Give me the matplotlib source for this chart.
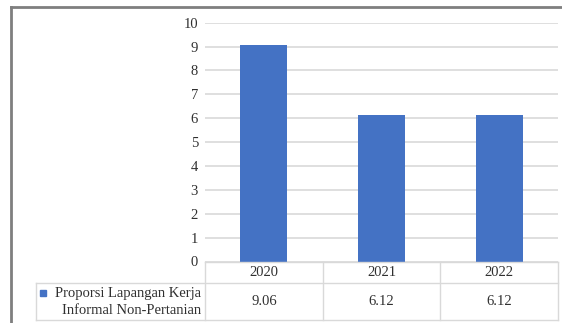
import matplotlib.pyplot as plt
from matplotlib.lines import Line2D
from matplotlib.patches import Rectangle

years = ["2020", "2021", "2022"]
proporsi = [9.06, 6.12, 6.12]
series_name = "Proporsi Lapangan Kerja\nInformal Non-Pertanian"
yticks = list(range(0, 11))

W, H = 562, 323
plt.rcParams['font.family'] = ['Liberation Serif', 'DejaVu Serif']
fig = plt.figure(figsize=(W / 100, H / 100), dpi=100)


def fx(px):
    return px / W


def fy(py):
    return 1 - py / H


BLUE = "#4472C4"
GRID = "#d9d9d9"
TXT = "#303030"
FS = 10.5

# plot area
left, right, top, bottom = 205, 558, 22.7, 261.5
ax = fig.add_axes([fx(left), fy(bottom), fx(right) - fx(left), fy(top) - fy(bottom)])
x = range(len(years))
ax.bar(x, proporsi, width=0.4, color=BLUE, zorder=3)
ax.set_xlim(-0.5, len(years) - 0.5)
ax.set_ylim(0, 10)
ax.set_yticks(yticks)
ax.set_yticklabels([str(t) for t in yticks], fontsize=FS, color=TXT)
ax.tick_params(axis="y", length=0, pad=5)
ax.set_xticks([])
ax.yaxis.grid(True, color=GRID, linewidth=1.2, zorder=0)
for s in ax.spines.values():
    s.set_visible(False)

# data table under the plot
row1, row2, row3 = 261.5, 283, 320
legend_left = 36
col_w = (right - left) / len(years)
lines = [
    ((left, right), (row1, row1)),
    ((legend_left, right), (row2, row2)),
    ((legend_left, right), (row3, row3)),
    ((legend_left, legend_left), (row2, row3)),
    ((left, left), (row1, row3)),
]
for i in range(1, len(years) + 1):
    cx = left + i * col_w
    lines.append(((cx, cx), (row1, row3)))
for (xa, xb), (ya, yb) in lines:
    fig.add_artist(Line2D([fx(xa), fx(xb)], [fy(ya), fy(yb)], color=GRID, lw=1.0))

for i, (yr, v) in enumerate(zip(years, proporsi)):
    cx = left + (i + 0.5) * col_w
    fig.text(fx(cx), fy((row1 + row2) / 2), yr, ha="center", va="center",
             fontsize=FS, color=TXT)
    fig.text(fx(cx), fy((row2 + row3) / 2), f"{v:.2f}", ha="center", va="center",
             fontsize=FS, color=TXT)

fig.add_artist(Rectangle((fx(40), fy(296)), fx(6), fy(290) - fy(296), color=BLUE))
fig.text(fx(201), fy((row2 + row3) / 2 + 0.5), series_name, ha="right", va="center",
         fontsize=FS, color=TXT, linespacing=1.3)

# outer frame (left and top edges)
fig.add_artist(Line2D([fx(11), fx(11)], [fy(7), 0], color="#7f7f7f", lw=2.0))
fig.add_artist(Line2D([fx(11), 1], [fy(7), fy(7)], color="#7f7f7f", lw=2.0))

fig.savefig("out.png", dpi=100)
